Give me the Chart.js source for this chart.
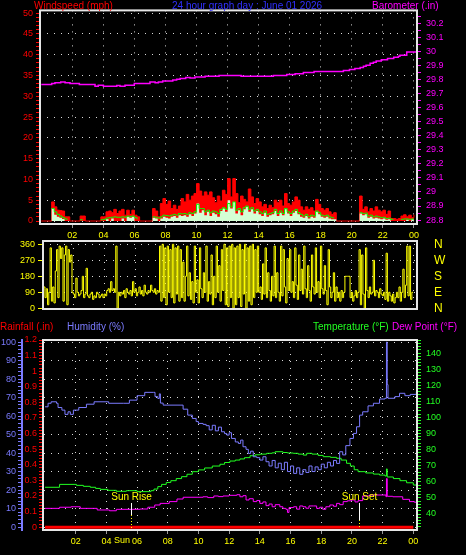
<!DOCTYPE html>
<html><head><meta charset="utf-8">
<script src="https://cdn.jsdelivr.net/npm/chart.js@4.4.1/dist/chart.umd.min.js"></script>
<style>
html,body{margin:0;padding:0;background:#000;width:466px;height:555px;overflow:hidden;}
canvas{position:absolute;left:0;top:0;}
.t{position:absolute;font:10px "Liberation Sans",Arial,sans-serif;white-space:nowrap;line-height:12px;z-index:5;}
</style></head><body>
<canvas id="c1" width="466" height="555"></canvas>
<canvas id="c2" width="466" height="555"></canvas>
<canvas id="c3" width="466" height="555"></canvas>
<div class="t" style="left:34px;top:0;color:#ff0000">Windspeed (mph)</div>
<div class="t" style="left:172px;top:0;color:#3030ff">24 hour graph day : June 01 2026</div>
<div class="t" style="left:372px;top:0;color:#ff00ff">Barometer (.in)</div>
<div class="t" style="left:0;top:321px;color:#ff0000">Rainfall (.in)</div>
<div class="t" style="left:67px;top:321px;color:#7b7bff">Humidity (%)</div>
<div class="t" style="left:313px;top:321px;color:#22ff22">Temperature (°F)</div>
<div class="t" style="left:392px;top:321px;color:#ff00ff">Dew Point (°F)</div>
<script>
// ---------- DATA ----------
// x-axis hour ticks
const hourTicks  = [2,4,6,8,10,12,14,16,18,20,22,24];
const hourLabels = ['02','04','06','08','10','12','14','16','18','20','22','00'];

// 10-minute wind samples from 00:00 (mph)
const gust = [0,0,0,0,4.6,3.4,2.6,2.5,2.4,1.0,
 1.0,0,0,0,0,1.2,1.2,0,0,0,
 0,0,0,1.0,1.0,2.2,2.4,2.0,2.8,1.8,
 2.4,2.8,1.4,2.6,1.6,2.6,1.4,1.0,0,0,
 0,0,0,3.0,2.4,1.0,4.2,5.4,4.0,4.8,
 3.0,3.8,2.8,3.6,5.4,4.6,6.4,5.0,6.0,6.6,
 9.0,7.2,6.0,7.0,6.2,7.0,5.6,4.4,6.0,4.8,
 7.4,6.4,10.2,5.8,10.2,6.6,4.4,6.0,5.2,4.6,
 7.7,5.8,4.2,5.4,4.6,3.4,4.0,3.0,3.8,3.2,
 5.0,4.4,5.0,3.6,6.6,4.2,3.8,4.6,5.8,5.0,
 3.4,2.6,3.4,2.8,3.2,2.4,5.2,4.0,3.0,2.6,
 3.0,2.2,1.6,2.0,0,0,0,0,0,0,
 0,0,0,6.0,2.8,3.4,2.2,3.0,2.4,3.4,
 2.6,2.2,2.6,1.6,2.4,0.6,0.6,0.4,0.6,1.2,
 1.5,1.0,1.4,0.8,1.5];
const windSpd = [0,0,0,0,3.0,1.5,1.0,0.8,0.5,0,
 0,0,0,0,0,0,0,0,0,0,
 0,0,0,0,0,0.4,0,0.6,0,0,
 0,0.6,0,1.0,0.8,1.0,0,0,0,0,
 0,0,0,0.8,0.6,0,0.6,1.0,0.8,0.6,
 1.0,1.2,0.8,1.4,1.2,1.4,1.0,1.6,1.2,1.8,
 4.2,2.0,2.6,1.4,2.2,1.2,2.0,1.6,1.0,2.4,
 3.0,2.2,5.0,3.0,4.6,1.8,2.6,1.4,2.8,3.4,
 2.2,2.8,1.8,2.4,1.6,1.2,2.0,1.0,1.4,1.6,
 2.4,1.2,2.0,1.4,2.8,1.8,1.2,2.0,2.4,1.6,
 1.0,0.8,1.2,0.6,1.0,0.8,2.2,1.6,1.0,0.8,
 1.0,0.6,0.4,0.4,0,0,0,0,0,0,
 0,0,0,1.8,1.4,1.6,0.8,1.0,0.6,0.8,
 0.6,0.4,0.6,0.3,0.4,0,0,0,0,0,
 0,0.3,0,0.4,0];
const windAvg = [null,null,null,null,3.0,2.2,1.6,1.2,0.8,0.5,
 0.3,null,null,null,null,0.3,0.3,null,null,null,
 null,null,null,0.3,0.4,0.7,0.8,0.9,1.0,0.9,
 0.9,1.0,0.9,1.2,1.1,1.2,0.8,0.4,null,null,
 null,null,null,1.0,0.9,0.7,1.0,1.4,1.3,1.2,
 1.4,1.6,1.4,1.8,1.7,1.8,1.6,2.0,1.8,2.2,
 4.0,3.0,3.0,2.2,2.6,2.0,2.4,2.2,1.8,2.8,
 3.2,2.8,4.2,3.4,4.6,2.6,3.0,2.2,3.2,3.6,
 2.8,3.2,2.4,2.8,2.2,1.8,2.4,1.6,1.8,2.0,
 2.8,1.8,2.4,1.8,3.0,2.2,1.8,2.4,2.8,2.0,
 1.6,1.2,1.6,1.0,1.4,1.2,2.4,2.0,1.4,1.2,
 1.4,1.0,0.8,0.6,null,null,null,null,null,null,
 null,null,null,2.0,1.8,1.9,1.2,1.4,1.0,1.2,
 1.0,0.8,0.9,0.6,0.7,0.4,0.3,null,null,0.4,
 0.5,0.5,0.4,0.5,0.5];

// wind direction, degrees, 5-minute samples from 00:00 (one row per hour)
const windDir = [
 100,120,60,110,20,90,340,40,120,30,210,330,
 60,350,280,340,40,300,350,20,330,260,300,90,
 80,60,170,90,70,80,100,180,60,80,225,70,
 60,80,90,50,70,60,90,80,60,70,80,60,
 80,70,100,110,90,150,100,110,90,350,0,90,
 70,90,80,100,60,110,90,80,100,70,150,90,
 110,70,90,120,80,100,70,130,90,80,100,90,
 130,100,90,110,80,100,90,350,40,360,60,340,
 20,350,90,330,60,360,30,340,80,350,40,330,
 60,260,40,180,350,70,200,50,150,30,350,90,
 160,30,340,110,60,200,90,350,40,150,80,300,
 20,180,60,350,90,240,40,330,100,360,20,340,
 10,350,60,360,0,340,20,350,60,360,10,330,
 80,360,0,340,40,350,20,360,60,330,90,350,
 90,120,50,250,80,340,60,200,100,40,180,70,
 350,60,200,90,40,350,70,330,120,30,280,100,
 330,90,150,60,340,130,50,300,100,220,80,350,
 110,60,240,100,40,300,120,80,340,90,150,60,
 350,110,80,240,100,20,330,120,60,90,200,40,
 120,60,90,40,100,60,90,180,180,180,180,60,
 90,40,70,100,60,90,330,20,300,80,0,340,
 100,60,120,80,90,270,70,100,90,60,110,80,
 70,90,50,310,40,90,70,40,80,30,60,90,
 60,120,40,90,220,60,130,350,70,350,50,90,
 90];

// barometer (inHg): hour each reading starts, value
const baroT = [0,0.67,0.88,1.25,1.53,1.85,2.45,3.46,3.67,4.0,4.86,5.07,5.39,5.99,7.0,7.33,7.54,7.82,8.47,8.72,8.94,9.3,9.58,9.9,10.55,11.45,12.87,14.95,15.81,16.35,16.88,17.57,19.46,19.85,20.2,20.54,20.75,20.92,21.18,21.39,21.57,21.9,22.3,22.7,23.0,23.1,23.54,24.2];
const baroV = [29.764,29.771,29.778,29.783,29.778,29.771,29.764,29.752,29.759,29.752,29.757,29.752,29.759,29.771,29.783,29.778,29.783,29.790,29.797,29.802,29.807,29.814,29.811,29.818,29.823,29.828,29.823,29.828,29.835,29.842,29.850,29.857,29.864,29.871,29.878,29.885,29.894,29.901,29.916,29.923,29.932,29.940,29.950,29.958,29.966,29.973,29.996,29.996];

// humidity (%)
const humT = [0,0.2,0.4,0.75,0.85,1.1,1.3,1.5,1.65,1.85,2.2,2.7,3.2,4.15,5.1,5.5,6.0,6.5,7.06,7.17,7.35,7.45,7.52,7.7,8.8,9.0,9.3,9.6,9.85,10.0,10.3,10.5,10.7,10.9,11.1,11.3,11.5,11.7,11.85,12.0,12.15,12.4,12.6,12.75,12.9,13.1,13.25,13.4,13.57,13.8,14.0,14.2,14.4,14.6,14.8,15.0,15.2,15.4,15.6,15.8,16.0,16.2,16.4,16.6,16.8,17.0,17.2,17.4,17.6,17.8,18.0,18.2,18.4,18.6,18.8,19.0,19.2,19.4,19.6,19.87,20.1,20.3,20.5,20.7,21.05,21.4,21.8,22.15,22.25,22.3,22.35,22.8,23.1,23.45,23.8,24.2];
const humV = [65,66.9,67.7,66.9,64.6,63.2,60.9,62.3,60.9,63.2,64.6,66.4,67.7,66.9,66.9,68.6,71,72.8,72.8,70.5,69.5,72,67,65.9,65.9,63.7,60.5,58.7,57,56,55.5,54.8,52.5,55,52,54,51.5,50.5,49.7,51,47.9,46,45.2,47,43.4,42,39.8,41,38,37.5,36.2,38,35.3,33,36,32,34.5,31,35,30,33,29,32,28.5,31,29.5,33,30,32.5,31,34,32,35,33,36,34.4,40.7,39,44,47.9,50.6,54.2,60.5,62.3,65.5,66.9,69.2,69.6,100,77,69.6,70.5,72.3,71,71.7,73.2];

// temperature (°F)
const tempT = [0,0.95,2.05,2.5,2.95,3.3,3.6,4.1,4.65,5.3,6.0,6.9,7.1,7.35,7.6,7.9,8.2,8.55,8.9,9.25,9.6,10.0,10.4,10.9,11.4,11.7,12.05,12.4,12.7,13.0,13.36,13.7,14.0,14.44,14.8,15.0,15.5,15.8,16.18,16.5,16.83,17.05,17.4,17.8,18.13,18.6,19.0,19.3,19.65,19.9,20.15,20.4,20.9,21.4,21.8,22.15,22.25,22.3,22.7,23.13,23.56,24.0,24.2];
const tempV = [56.6,58.4,57.8,57.2,56.6,55.9,55.3,54.7,54.1,54.5,53.9,54.5,55.5,57.0,58.4,59.6,60.7,62.0,63.2,64.7,66.3,67.4,68.6,69.8,70.9,72.0,72.9,73.5,74.2,75.0,76.2,76.8,77.2,77.7,78.0,78.7,78.2,77.9,77.7,77.2,76.6,77.7,77.2,76.4,75.6,75.2,74.6,73.5,71.5,69.8,67.5,66.3,65.5,64.8,64.2,63.6,68.0,63.0,62.0,60.7,59.4,58.0,58.0];

// dew point (°F)
const dewT = [0,0.95,1.7,2.3,3.4,4.2,4.65,6.2,6.7,7.15,7.5,8.1,8.6,9.0,10.3,10.6,11.0,11.3,11.6,12.0,12.5,12.7,12.9,13.1,13.3,13.57,13.8,14.0,14.2,14.4,14.6,14.8,15.0,15.3,15.5,15.7,15.8,15.9,16.2,16.4,16.6,16.8,17.0,17.2,17.5,17.7,17.9,18.1,18.3,18.56,18.8,19.0,19.2,19.43,19.7,19.97,20.2,20.4,20.7,21.14,22.22,22.25,22.3,22.66,23.31,23.75,24.07,24.2];
const dewV = [43.5,44.2,44.5,43.5,42.5,42.0,42.9,43.1,44.2,45.6,46.6,47.7,49.3,50.4,50.7,50.2,51.2,50.8,51.2,51.6,52.0,50.7,51.4,48.7,49.5,47.7,48.4,46.6,47.5,45.2,46.2,44.5,45.8,44.5,43.5,42.9,41.0,44.0,44.5,43.0,45.0,44.5,43.6,45.0,45.0,43.5,44.2,42.9,44.5,45.6,44.8,46.6,45.8,47.7,48.2,48.7,47.5,48.3,51.2,51.8,50.7,62.0,51.0,50.7,49.1,47.7,47.3,47.3];

// rainfall (in)
const rainT = [0, 24];
const rainV = [0, 0];

// sun events (hour)
const sunRise = 5.6;
const sunSet = 20.48;

// axis tick labels
const windLabels = [0,5,10,15,20,25,30,35,40,45,50];
const baroLabels = [28.8,28.9,29.0,29.1,29.2,29.3,29.4,29.5,29.6,29.7,29.8,29.9,30.0,30.1,30.2];
const dirTicks = [0,90,180,270,360];
const compassLabels = ['N','E','S','W','N'];
const humLabels = [0,10,20,30,40,50,60,70,80,90,100];
const rainLabels = [0,0.1,0.2,0.3,0.4,0.5,0.6,0.7,0.8,0.9,1,1.1,1.2];
const tempLabels = [40,50,60,70,80,90,100,110,120,130,140];

// ---------- HELPERS ----------
const windT = gust.map((_, i) => i / 6);
const dirT = windDir.map((_, i) => i / 12);
function pts(t, v){ return t.map((x, i) => ({x: x, y: v[i]})); }
function range(a, b, s){ const r = []; for (let k = 0; ; k++){ const v = +(a + k*s).toFixed(4); if (v > b + 1e-9) break; r.push(v); } return r; }
function isMajor(list, v){ return list.some(q => Math.abs(q - v) < 1e-6); }
function labelFrom(list, fmt){ return v => isMajor(list, v) ? fmt(v) : ''; }
const GRID = '#d8d8d8';
const NONE = 'rgba(0,0,0,0)';
const DOTS = [1, 6];
function majorGrid(list){ return c => (c.tick && isMajor(list, c.tick.value)) ? GRID : NONE; }
function setTicks(vals){ return s => { s.ticks = vals.map(v => ({value: v})); }; }
function fixW(w){ return s => { s.width = w; }; }
function fixH(h){ return s => { s.height = h; }; }
const hourLabel = v => { const i = hourTicks.indexOf(v); return i < 0 ? '' : hourLabels[i]; };

Chart.defaults.font.family = '"Liberation Sans", Arial, sans-serif';
Chart.defaults.font.size = 9;

const frame = { id: 'frame', afterDraw(c){ const a = c.chartArea, x = c.ctx; x.save(); x.strokeStyle = '#e6e6e6'; x.lineWidth = 2; x.strokeRect(a.left, a.top, a.right - a.left, a.bottom - a.top); x.restore(); } };

const common = { responsive: false, animation: false, events: [], plugins: { legend: { display: false }, tooltip: { enabled: false } } };
const line = (o) => Object.assign({ pointRadius: 0, borderWidth: 1, stepped: true, fill: false, tension: 0 }, o);

// ---------- TOP: wind + barometer ----------
new Chart(document.getElementById('c1'), {
  type: 'line',
  data: { datasets: [
    line({ data: pts(windT, windAvg), borderColor: '#00ff00', yAxisID: 'wind', order: 0 }),
    line({ data: pts(windT, windSpd), borderWidth: 0, borderColor: NONE, backgroundColor: '#d4ffd4', fill: 'origin', yAxisID: 'wind', order: 1 }),
    line({ data: pts(windT, gust), borderColor: '#ff0000', backgroundColor: '#ff0000', fill: 'origin', yAxisID: 'wind', order: 2 }),
    line({ data: pts(baroT, baroV), borderColor: '#ff00ff', borderWidth: 1.5, yAxisID: 'baro', order: 3 })
  ]},
  options: Object.assign({}, common, {
    layout: { padding: { left: 0, right: 0, top: 10, bottom: 315 } },
    scales: {
      x: { type: 'linear', min: -0.084, max: 24.2, afterBuildTicks: setTicks(hourTicks), afterFit: fixH(16),
           ticks: { color: '#ffff00', autoSkip: false, maxRotation: 0, padding: 2, callback: hourLabel },
           grid: { color: GRID, tickColor: '#999999', tickLength: 4 }, border: { display: false, dash: DOTS } },
      wind: { axis: 'y', type: 'linear', position: 'left', min: -0.72, max: 50.65, afterBuildTicks: setTicks(range(0, 50, 1)), afterFit: fixW(40),
           ticks: { color: '#ff0000', autoSkip: false, padding: 3, callback: labelFrom(windLabels, v => String(v)) },
           grid: { color: majorGrid(windLabels), tickColor: '#ff0000', tickLength: 4 }, border: { display: false, dash: DOTS } },
      baro: { axis: 'y', type: 'linear', position: 'right', min: 28.772, max: 30.292, afterBuildTicks: setTicks(range(28.8, 30.25, 0.05)), afterFit: fixW(49),
           ticks: { color: '#ff00ff', autoSkip: false, padding: 5, callback: labelFrom(baroLabels, v => String(+v.toFixed(1))) },
           grid: { drawOnChartArea: false, tickColor: '#ff00ff', tickLength: 4 }, border: { display: false } }
    }
  }),
  plugins: [frame]
});

// ---------- MIDDLE: wind direction ----------
new Chart(document.getElementById('c2'), {
  type: 'line',
  data: { datasets: [ line({ data: pts(dirT, windDir), borderColor: '#ffff00', yAxisID: 'dir' }) ] },
  options: Object.assign({}, common, {
    layout: { padding: { left: 0, right: 0, top: 241, bottom: 246 } },
    scales: {
      x: { type: 'linear', min: 0.04, max: 24.25, afterBuildTicks: setTicks(hourTicks), afterFit: fixH(0),
           ticks: { display: false }, grid: { color: GRID, drawTicks: false }, border: { display: false, dash: DOTS } },
      dir: { axis: 'y', type: 'linear', position: 'left', min: -4, max: 378.6, afterBuildTicks: setTicks(dirTicks), afterFit: fixW(43),
           ticks: { color: '#ffff00', autoSkip: false, padding: 3 },
           grid: { color: GRID, tickColor: '#ffff00', tickLength: 5 }, border: { display: false, dash: DOTS } },
      compass: { axis: 'y', type: 'linear', position: 'right', min: -4, max: 378.6, afterBuildTicks: setTicks(dirTicks), afterFit: fixW(49),
           ticks: { color: '#ffff00', autoSkip: false, padding: 17, font: { size: 12 }, callback: v => compassLabels[dirTicks.indexOf(v)] },
           grid: { drawOnChartArea: false, drawTicks: false }, border: { display: false } }
    }
  }),
  plugins: [frame]
});

// ---------- BOTTOM: rain, humidity, temperature, dew point ----------
const sunPlugin = { id: 'sun', afterDatasetsDraw(c){
  const xs = c.scales.x, ctx = c.ctx, a = c.chartArea;
  [[sunRise, 'Sun Rise', 15], [sunSet, 'Sun Set', 10]].forEach(([h, txt, dl]) => {
    const x = Math.round(xs.getPixelForValue(h)) + 0.5;
    ctx.save();
    ctx.fillStyle = '#ffff00'; ctx.font = '10px "Liberation Sans", Arial, sans-serif';
    ctx.textAlign = 'center'; ctx.textBaseline = 'middle';
    ctx.fillText(txt, x, a.bottom - 33);
    ctx.strokeStyle = '#ffffff'; ctx.lineWidth = 1;
    ctx.beginPath(); ctx.moveTo(x, a.bottom - 27); ctx.lineTo(x, a.bottom - dl); ctx.stroke();
    ctx.strokeStyle = '#ffff00'; ctx.setLineDash([1, 2]);
    ctx.beginPath(); ctx.moveTo(x, a.bottom - dl); ctx.lineTo(x, a.bottom - 2); ctx.stroke();
    ctx.restore();
  });
}, afterDraw(c){
  const xs = c.scales.x, ctx = c.ctx, a = c.chartArea;
  ctx.save(); ctx.fillStyle = '#ffff00'; ctx.font = '9px "Liberation Sans", Arial, sans-serif';
  ctx.textAlign = 'center'; ctx.textBaseline = 'middle';
  ctx.fillText('Sun', xs.getPixelForValue(sunRise) - 9, a.bottom + 11);
  ctx.restore();
}};

new Chart(document.getElementById('c3'), {
  type: 'line',
  data: { datasets: [
    line({ data: pts(humT, humV), borderColor: '#7b7bff', yAxisID: 'hum' }),
    line({ data: pts(tempT, tempV), borderColor: '#22ff22', yAxisID: 'temp' }),
    line({ data: pts(dewT, dewV), borderColor: '#ff00ff', yAxisID: 'temp' }),
    line({ data: pts(rainT, rainV), borderColor: '#ff0000', borderWidth: 3, stepped: false, yAxisID: 'rain' })
  ]},
  options: Object.assign({}, common, {
    layout: { padding: { left: 0, right: 0, top: 340, bottom: 9 } },
    scales: {
      x: { type: 'linear', min: -0.13, max: 24.24, afterBuildTicks: setTicks(hourTicks), afterFit: fixH(16),
           ticks: { color: '#ffff00', autoSkip: false, maxRotation: 0, padding: 2, callback: hourLabel },
           grid: { color: GRID, tickColor: '#999999', tickLength: 4 }, border: { display: false, dash: DOTS } },
      hum: { axis: 'y', type: 'linear', position: 'left', weight: 10, min: -1.6, max: 101.1, afterBuildTicks: setTicks(range(0, 100, 2)), afterFit: fixW(22),
           ticks: { color: '#7b7bff', autoSkip: false, padding: 2, callback: labelFrom(humLabels, v => String(v)) },
           grid: { color: majorGrid(humLabels), tickColor: '#7b7bff', tickLength: 4 }, border: { display: true, color: '#7b7bff', width: 2, dash: DOTS } },
      rain: { axis: 'y', type: 'linear', position: 'left', weight: 0, min: -0.018, max: 1.2, afterBuildTicks: setTicks(range(0, 1.2, 0.02)), afterFit: fixW(21),
           ticks: { color: '#ff0000', autoSkip: false, padding: 2, callback: labelFrom(rainLabels, v => String(+v.toFixed(1))) },
           grid: { drawOnChartArea: false, tickColor: '#ff0000', tickLength: 4 }, border: { display: false } },
      temp: { axis: 'y', type: 'linear', position: 'right', min: 30.06, max: 148.1, afterBuildTicks: setTicks(range(32, 148, 2)), afterFit: fixW(49),
           ticks: { color: '#22ff22', autoSkip: false, padding: 5, callback: labelFrom(tempLabels, v => String(v)) },
           grid: { drawOnChartArea: false, tickColor: '#22ff22', tickLength: 4 }, border: { display: false } }
    }
  }),
  plugins: [frame, sunPlugin]
});
</script>
</body></html>
